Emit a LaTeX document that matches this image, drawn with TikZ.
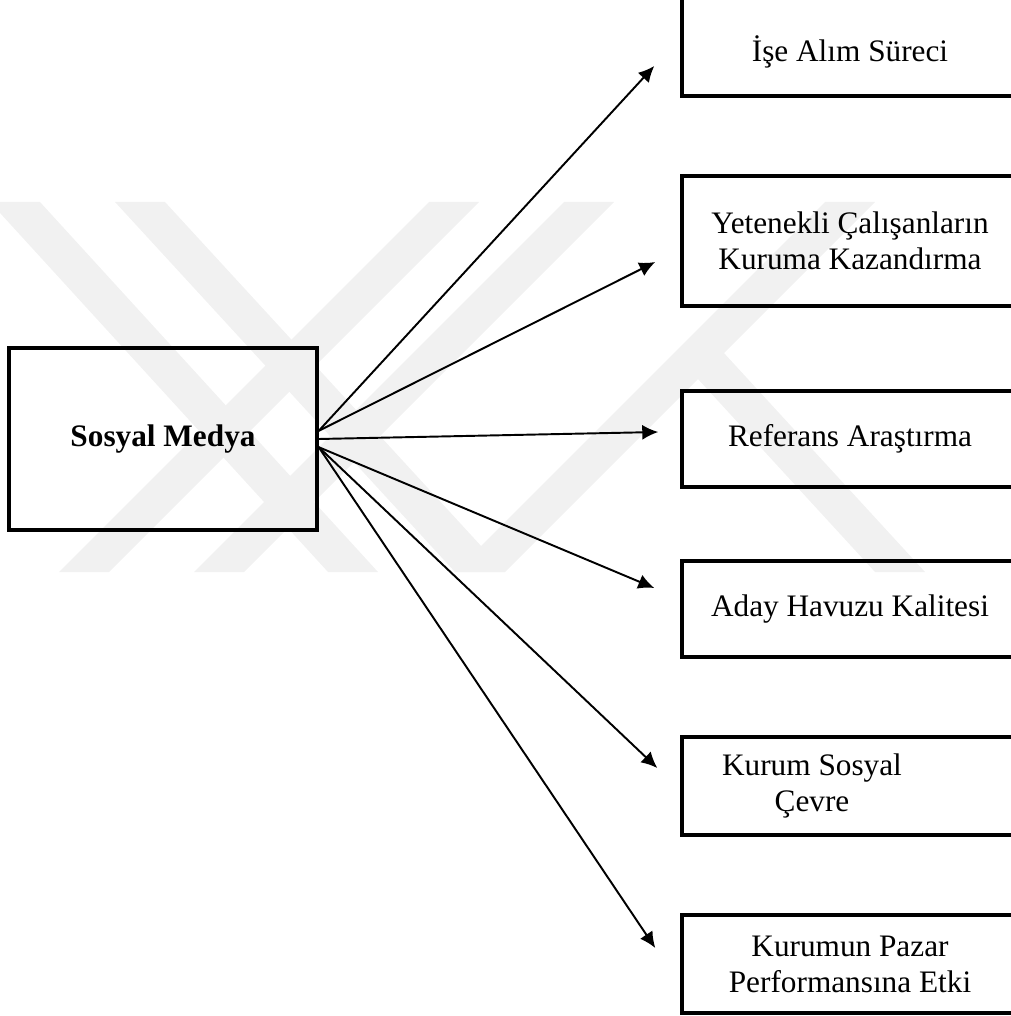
\documentclass[tikz,border=0pt]{standalone}
\usepackage{fontspec}
\setmainfont{Liberation Serif}
\usetikzlibrary{positioning,
calc,
arrows.meta}
\definecolor{wmgray}{gray}{0.945}
\newcommand{\boxfont}{\fontsize{17.8pt}{20.5pt}\selectfont}
\tikzstyle{Link} = [
line width=1.1pt,
-{Latex[length=3.2mm,width=3mm]}
]
\tikzstyle{Box} = [
rectangle, draw, line width=2pt,
minimum width=6.72cm, align=center,
font=\boxfont
]

\begin{document}
\begin{tikzpicture}[x=0.02cm, y=-0.02cm]
            \useasboundingbox (0,0) rectangle (1010,1016);
            % faint watermark stripes
            \begin{scope}[fill=wmgray]
              \foreach \t/\b in {15/353, 140/480}
                \fill (\t-25,202) -- (\t+25,202) -- (\b+25,572) -- (\b-25,572) -- cycle;
              \foreach \b in {84, 219, 480}
                \fill (\b-25,572) -- (\b+25,572) -- (\b+395,202) -- (\b+345,202) -- cycle;
              \fill (875,572) -- (925,572) -- (712,340) -- (686,366) -- cycle;
            \end{scope}

            \node [Box, minimum width=6.16cm, minimum height=3.64cm, font=\boxfont\bfseries] (0) at (163,439) {Sosyal Medya};
            \node [Box, minimum height=1.96cm, text height=20pt, text depth=3pt] (1) at (850,47) {İşe Alım Süreci};
            \node [Box, minimum height=2.6cm] (2) at (850,241) {Yetenekli Çalışanların\\Kuruma Kazandırma};
            \node [Box, minimum height=1.92cm] (3) at (850,439) {Referans Araştırma};
            \node [Box, minimum height=1.92cm] (4) at (850,609) {Aday Havuzu Kalitesi};
            \node [Box, minimum height=1.96cm] (5) at (850,786) {};
            \node [font=\boxfont, align=center] (5t) at (812,786) {Kurum Sosyal\\Çevre};
            \node [Box, minimum height=1.96cm] (6) at (850,964) {Kurumun Pazar\\Performansına Etki};

            \draw[Link] (0.3) to ($(1.west)+(-26,19)$);
            \draw[Link] (0.3) to ($(2.west)+(-25,21)$);
            \draw[Link] (0.east) to ($(3.west)+(-22,-7)$);
            \draw[Link] (0.-3) to ($(4.west)+(-26,-21)$);
            \draw[Link] (0.-3) to ($(5.west)+(-23,-18)$);
            \draw[Link] (0.-3) to ($(6.west)+(-25,-16)$);
        \end{tikzpicture}
\end{document}
